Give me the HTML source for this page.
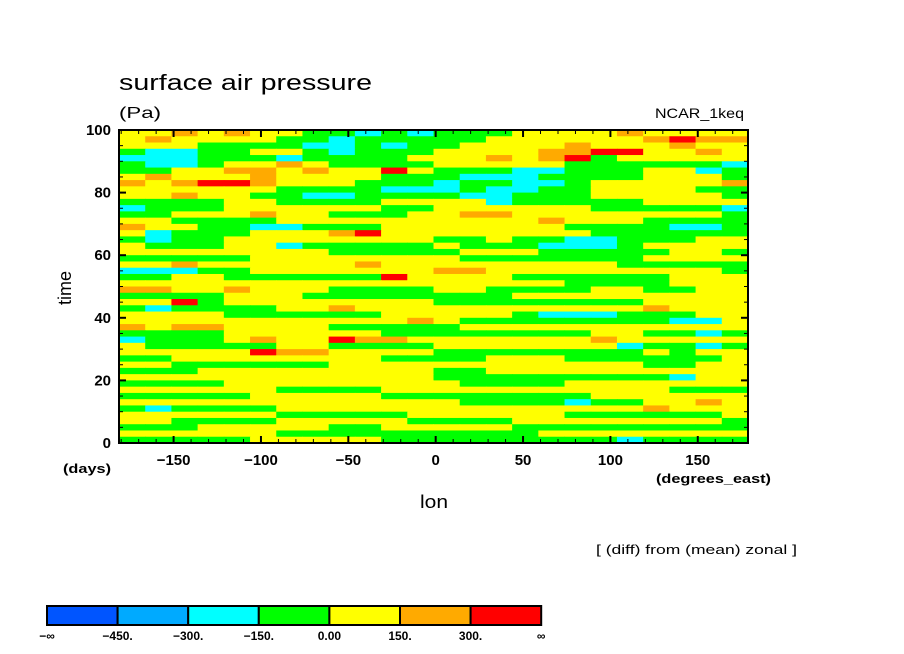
<!DOCTYPE html>
<html><head><meta charset="utf-8"><style>
body{margin:0;background:#fff;width:904px;height:654px;overflow:hidden}
svg{display:block;font-family:"Liberation Sans",sans-serif}
</style></head><body>
<svg id="chart" width="904" height="654">
<text x="119" y="90" font-size="22" textLength="253" lengthAdjust="spacingAndGlyphs">surface air pressure</text>
<text x="119" y="118" font-size="16" textLength="42" lengthAdjust="spacingAndGlyphs">(Pa)</text>
<text x="655" y="118" font-size="14" textLength="89" lengthAdjust="spacingAndGlyphs">NCAR_1keq</text>
<g id="cells"></g>
<g id="axes"></g>
<text transform="translate(71,288) rotate(-90)" font-size="18" text-anchor="middle">time</text>
<text x="63" y="473" font-size="13" font-weight="bold" textLength="48" lengthAdjust="spacingAndGlyphs">(days)</text>
<text x="420" y="508" font-size="18" textLength="28" lengthAdjust="spacingAndGlyphs">lon</text>
<text x="656" y="483" font-size="13" font-weight="bold" textLength="115" lengthAdjust="spacingAndGlyphs">(degrees_east)</text>
<text x="596" y="554" font-size="13" textLength="201" lengthAdjust="spacingAndGlyphs">[ (diff) from (mean) zonal ]</text>
<g id="cbar"></g>
</svg>
<script>
const lonEdges=[-181.25,178.75];
const timeRange=[0,100];
const xTicks=[-150,-100,-50,0,50,100,150];
const yTicks=[0,20,40,60,80,100];
const levels=[-450,-300,-150,0,150,300];
const levelLabels=["\u2212\u221e","\u2212450.","\u2212300.","\u2212150.","0.00","150.","300.","\u221e"];
const colors=["#0055ff","#00aaff","#00ffff","#00ff00","#ffff00","#ffaa00","#ff0000"];
const codeValues={c:-200,g:-75,y:75,o:225,r:350};
// rows from day 100 down to day 0, 24 longitude bins each
const rows=[
"yyoyoyyggcgcgggyyyyoyyyy","yoyyyyggcgggggyyyyyyoroo","yyyggggccgcggyyyyoyyyoyy","gccggyygcgggyyyyoorryyoy",
"cccgggcggggyyyoyorgyyyyy","gccgyyoyggggyyyyyggggggc","ggyyooyoyyrygggccgggyycg","yoyyyoyyyygggcccggggyyyg",
"oyorroyyygggcggccgyyyyyo","yyyyyyggggcccgccggyyyygg","yyoyyggccggggccgggyyyyyg","ggggyyggggyyyycgggggyyyy",
"cgggyyyyyyggyyyyyygggggc","ggyyyoyygggyyooyyyyyyyyg","yyggggyyyyyyyyyyoyyygggg","oyyggccgggyyyyyyyggggccg",
"ycgggyyyoryyyyyyyygggggg","gcggyyyyyyyyggyggccgggyy","ygggyycgggggygggcccgyyyy","yyyyyyyygggggyyygggggyyg",
"gggggyyyyyyyygggggggyyyy","yyoyyyyyyoyyyyyyyyyggggg","cccggyyyyyyyooyyyyyyyyyg","ggyyggggggryyyyggggggyyy",
"yyyyyyyyyyyyyyyyyggggyyy","ooyyoyyyggggyyggggyyggyy","ggggyyyggggggggyyyyyyyyy","yyrgyyyyyyyyggggggggyyyy",
"gcggggyyoyyyyyyyyyyyoyyy","yyyyggggggyyyyygcccgggyy","yyyyyyyyyyyoyggggggggccy","oyooyyyygggggyyyyyyyyyyy",
"ggggyyyyyyggggggggyyggcg","cgggyoyyrooyyyyyyyoyyyyy","ygggggyyggggyyyyyyycggcg","yyyyyrooyyyyggggggggygyy",
"ggyyyyyyyyggggyyyggggggy","yyggggggyyyyyyyyyyyyggyy","gggyyyyyyyyyggyyyyyyyyyy","yyyyyyyyyyyygggggggggcyy",
"ggggyyyyyyyyyggggyyyyyyy","yyyyyyggggyyyyyyyyyyyggg","gggggyyyyyggggggggyyyyyy","yyyyyyyyyyyyyggggcggyyoy",
"gcggggyyyyyyyyyyyyyyoyyy","yyyyyygggggyyyyyyggggggy","yyggggyyyyyggggyyyyyyyyg","gggyyyyyggyyyyyggggggggg",
"yyyyyyggggggggggyyyyyyyy","gggggyyyyygggggggggcgggg"];
const X0=119,X1=748,Y0=443,Y1=130;
const xs=l=>X0+(l-lonEdges[0])/(lonEdges[1]-lonEdges[0])*(X1-X0);
const ys=t=>Y0-(t-timeRange[0])/(timeRange[1]-timeRange[0])*(Y0-Y1);
function colorOf(v){let i=0;while(i<levels.length&&v>=levels[i])i++;return colors[i];}
const NS="http://www.w3.org/2000/svg";
const cells=document.getElementById('cells');
const nr=rows.length;
rows.forEach((r,ri)=>{
  const nc=r.length;
  const t1=timeRange[1]-ri*(timeRange[1]-timeRange[0])/nr, t0=t1-(timeRange[1]-timeRange[0])/nr;
  for(let ci=0;ci<nc;ci++){
    const v=codeValues[r[ci]];
    const l0=lonEdges[0]+ci*(lonEdges[1]-lonEdges[0])/nc, l1=l0+(lonEdges[1]-lonEdges[0])/nc;
    const e=document.createElementNS(NS,'rect');
    
    
    e.setAttribute('x',xs(l0));e.setAttribute('y',ys(t1));
    e.setAttribute('width',xs(l1)-xs(l0)+0.5);e.setAttribute('height',ys(t0)-ys(t1)+0.5);
    e.setAttribute('fill',colorOf(v));
    cells.appendChild(e);
  }
});
const ax=document.getElementById('axes');
function add(tag,attrs,parent){const e=document.createElementNS(NS,tag);for(const k in attrs)e.setAttribute(k,attrs[k]);(parent||ax).appendChild(e);return e;}
const frame=add('rect',{x:X0,y:Y1,width:X1-X0,height:Y0-Y1,fill:'none',stroke:'#000','stroke-width':2});


for(let l=-180;l<=170;l+=10){const big=l%50===0,len=big?7:4;
  add('line',{x1:xs(l),x2:xs(l),y1:Y0,y2:Y0-len,stroke:'#000','stroke-width':big?2:1});
  add('line',{x1:xs(l),x2:xs(l),y1:Y1,y2:Y1+len,stroke:'#000','stroke-width':big?2:1});}
for(let t=0;t<=100;t+=5){const big=t%20===0,len=big?7:4;
  add('line',{x1:X0,x2:X0+len,y1:ys(t),y2:ys(t),stroke:'#000','stroke-width':big?2:1});
  add('line',{x1:X1,x2:X1-len,y1:ys(t),y2:ys(t),stroke:'#000','stroke-width':big?2:1});}
xTicks.forEach(v=>{const e=add('text',{x:xs(v),y:465,'font-size':15,'font-weight':'bold','text-anchor':'middle'});
  
  
  e.textContent=v<0?'\u2212'+(-v):String(v);});
yTicks.forEach(v=>{const e=add('text',{x:111,y:ys(v)+5,'font-size':15,'font-weight':'bold','text-anchor':'end'});
  
  
  e.textContent=String(v);});
const cb=document.getElementById('cbar');
const CX0=47,CW=70.6,CY=606,CH=19;
colors.forEach((c,i)=>{const e=add('rect',{x:CX0+i*CW,y:CY,width:CW,height:CH,fill:c,stroke:'#000','stroke-width':2},cb);
  
  });
levelLabels.forEach((s,i)=>{const e=add('text',{x:CX0+i*CW,y:640,'font-size':12,'font-weight':'bold','text-anchor':'middle'},cb);
  
  
  e.textContent=s;});
</script>
</body></html>
